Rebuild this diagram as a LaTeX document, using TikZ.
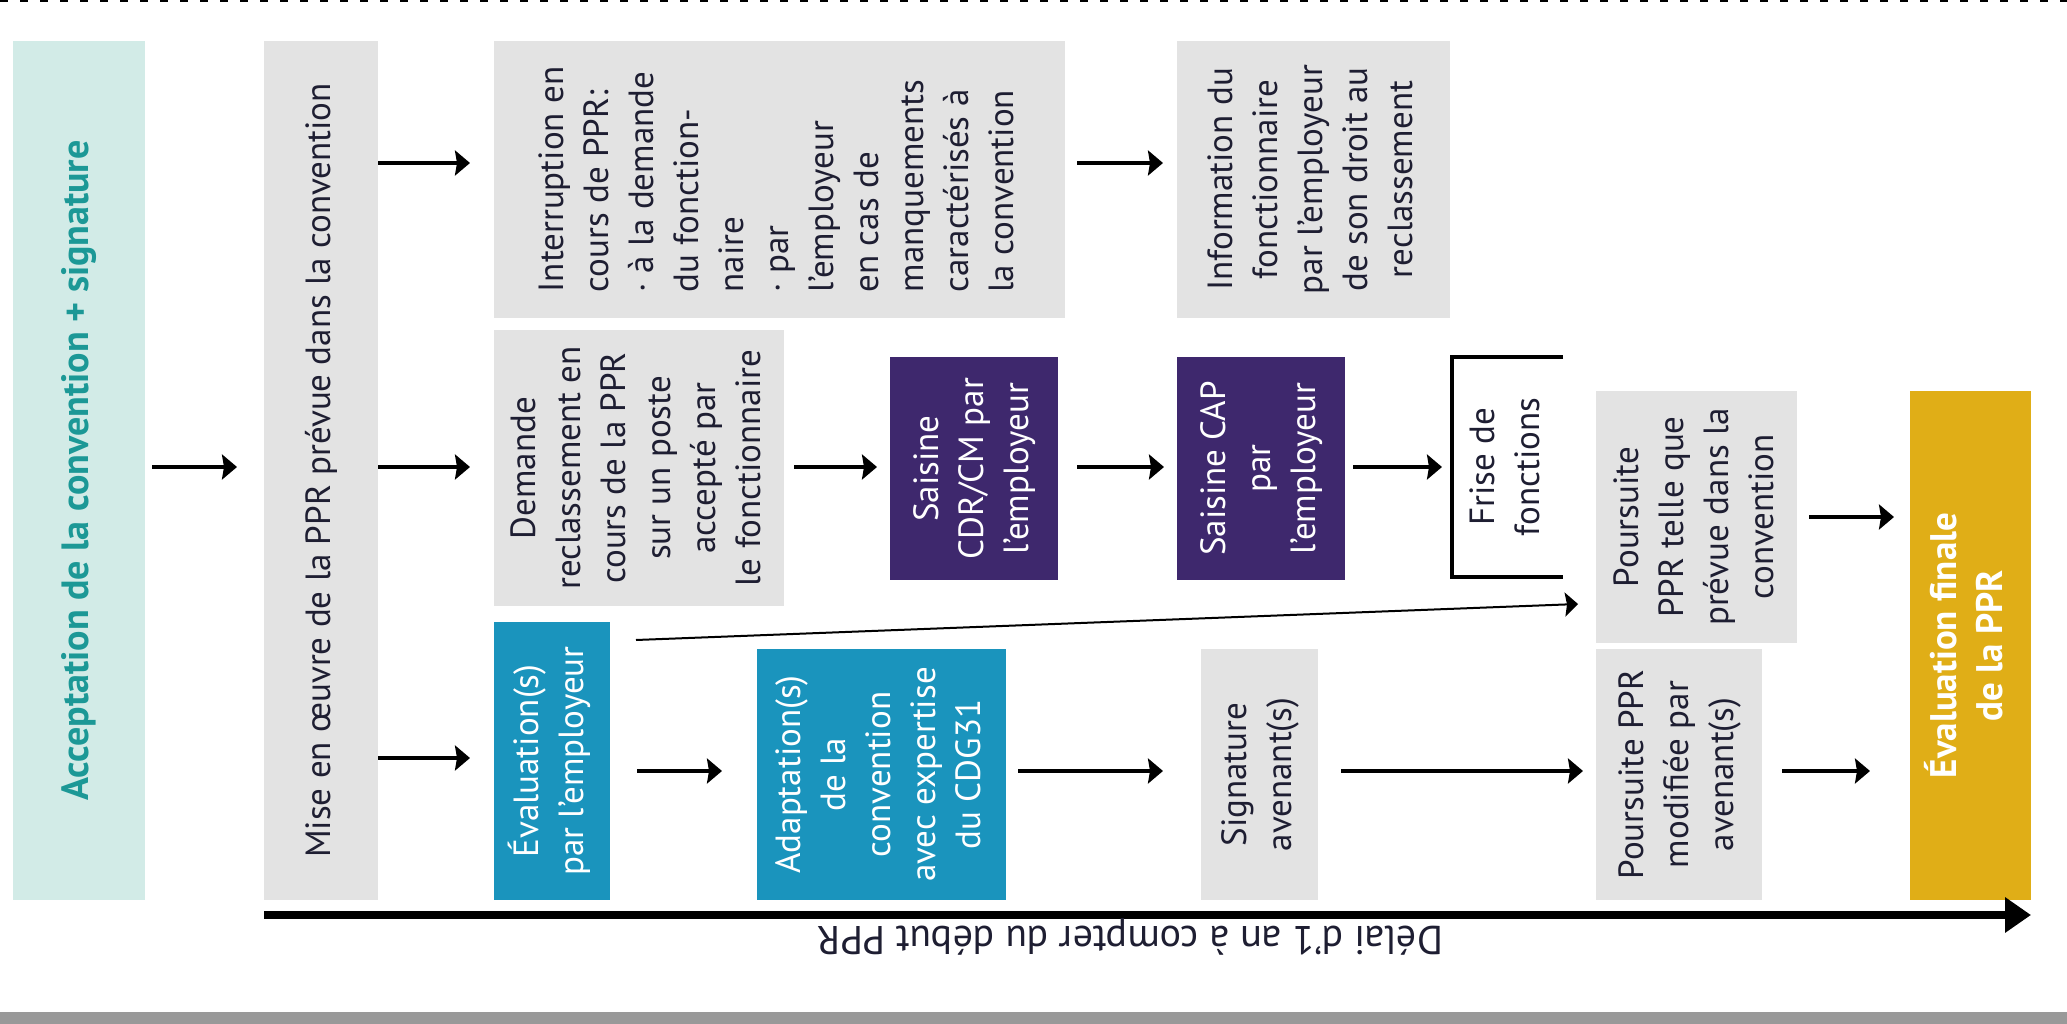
\documentclass[tikz,border=0pt]{standalone}
\usepackage{fontspec}
\setmainfont{PT Sans}
\usetikzlibrary{arrows.meta}
\definecolor{tealbg}{RGB}{210,235,231}
\definecolor{tealtx}{RGB}{28,152,150}
\definecolor{boxgray}{RGB}{227,227,227}
\definecolor{purp}{RGB}{62,40,109}
\definecolor{bluebx}{RGB}{26,148,189}
\definecolor{goldbx}{RGB}{224,174,23}
\definecolor{darktx}{RGB}{30,30,50}
\definecolor{barg}{RGB}{153,153,153}
\newcommand\vtext[2][c]{\rotatebox{90}{\begin{tabular}{@{}#1@{}}#2\end{tabular}}}
\begin{document}
\begin{tikzpicture}[x=1pt,y=-1pt,
  every node/.style={inner sep=0pt,outer sep=0pt},
  bx/.style={rectangle, anchor=north west, font=\fontsize{35}{45}\selectfont, text=darktx, fill=boxgray},
  arr/.style={line width=4pt, -{Stealth[length=15pt,width=25pt,inset=2pt]}},
  thinarr/.style={line width=2pt, -{Stealth[length=13pt,width=24pt,inset=2pt]}},
  ]
\useasboundingbox (0,0) rectangle (2067,1024);
\draw[line width=2.5pt, dash pattern=on 8pt off 12pt] (0,1.25) -- (2067,1.25);
\fill[barg] (0,1012) rectangle (2067,1024);

\coordinate (r1) at (0,163);
\coordinate (r2) at (0,467);
\coordinate (r3a) at (0,758);
\coordinate (r3) at (0,771);
\coordinate (r4) at (0,517);
\coordinate (tl) at (0,915);

\node[bx, fill=tealbg, text=tealtx, minimum width=132, minimum height=859, font=\fontsize{38}{45}\selectfont] (A) at (13,41)
  {\vtext{\bfseries Acceptation de la convention + signature}};
\node[bx, minimum width=114, minimum height=859] (B) at (264,41)
  {\vtext{Mise en œuvre de la PPR prévue dans la convention}};
\node[bx, minimum width=571, minimum height=277] (C) at (494,41)
  {\vtext[l]{Interruption en\\cours de PPR:\\· à la demande\\du fonction-\\naire\\· par\\l'employeur\\en cas de\\manquements\\caractérisés à\\la convention}};
\node[bx, minimum width=273, minimum height=277] (D) at (1177,41)
  {\vtext{Information du\\fonctionnaire\\par l'employeur\\de son droit au\\reclassement}};
\node[bx, minimum width=290, minimum height=276] (E) at (494,330)
  {\vtext{Demande\\reclassement en\\cours de la PPR\\sur un poste\\accepté par\\le fonctionnaire}};
\node[bx, fill=purp, text=white, minimum width=168, minimum height=223] (F) at (890,357)
  {\vtext{Saisine\\CDR/CM par\\l'employeur}};
\node[bx, fill=purp, text=white, minimum width=168, minimum height=223] (G) at (1177,357)
  {\vtext{Saisine CAP\\par\\l'employeur}};
\node[bx, fill=none, minimum width=111, minimum height=220] (H) at (1452,357)
  {\vtext{Frise de\\fonctions}};
\draw[line width=4pt] (H.north east) -- (H.north west) -- (H.south west) -- (H.south east);
\node[bx, minimum width=201, minimum height=252] (I) at (1596,391)
  {\vtext{Poursuite\\PPR telle que\\prévue dans la\\convention}};
\node[bx, fill=bluebx, text=white, minimum width=116, minimum height=278] (J) at (494,622)
  {\vtext{Évaluation(s)\\par l'employeur}};
\node[bx, fill=bluebx, text=white, minimum width=249, minimum height=251] (L) at (757,649)
  {\vtext{Adaptation(s)\\de la\\convention\\avec expertise\\du CDG31}};
\node[bx, minimum width=117, minimum height=251] (M) at (1201,649)
  {\vtext{Signature\\avenant(s)}};
\node[bx, minimum width=166, minimum height=251] (N) at (1596,649)
  {\vtext{Poursuite PPR\\modifiée par\\avenant(s)}};
\node[bx, fill=goldbx, text=white, minimum width=121, minimum height=509, font=\fontsize{37}{46}\selectfont] (K) at (1910,391)
  {\vtext{\bfseries Évaluation finale\\\bfseries de la PPR}};

\draw[arr, shorten <=7pt, shorten >=27pt] (A.east |- r2) -- (B.west |- r2);
\draw[arr, shorten >=24pt] (B.east |- r1) -- (C.west |- r1);
\draw[arr, shorten >=24pt] (B.east |- r2) -- (E.west |- r2);
\draw[arr, shorten >=24pt] (B.east |- r3a) -- (J.west |- r3a);
\draw[arr, shorten <=12pt, shorten >=14pt] (C.east |- r1) -- (D.west |- r1);
\draw[arr, shorten <=10pt, shorten >=13pt] (E.east |- r2) -- (F.west |- r2);
\draw[arr, shorten <=19pt, shorten >=13pt] (F.east |- r2) -- (G.west |- r2);
\draw[arr, shorten <=8pt, shorten >=10pt] (G.east |- r2) -- (H.west |- r2);
\draw[arr, shorten <=12pt, shorten >=16pt] (I.east |- r4) -- (K.west |- r4);
\draw[arr, shorten <=27pt, shorten >=35pt] (J.east |- r3) -- (L.west |- r3);
\draw[arr, shorten <=12pt, shorten >=38pt] (L.east |- r3) -- (M.west |- r3);
\draw[arr, shorten <=23pt, shorten >=13pt] (M.east |- r3) -- (N.west |- r3);
\draw[arr, shorten <=20pt, shorten >=40pt] (N.east |- r3) -- (K.west |- r3);
\draw[thinarr] ([xshift=26pt,yshift=-18pt]J.north east) -- ([xshift=-18pt,yshift=39pt]I.south west);

\draw[line width=8pt, -{Triangle[length=26pt,width=34pt]}] (B.south west |- tl) -- (K.south east |- tl);
\node[font=\fontsize{40}{45}\selectfont, text=darktx, rotate=180] (lab) at (1130,937)
  {Délai d'1 an à compter du début PPR};
\end{tikzpicture}
\end{document}
